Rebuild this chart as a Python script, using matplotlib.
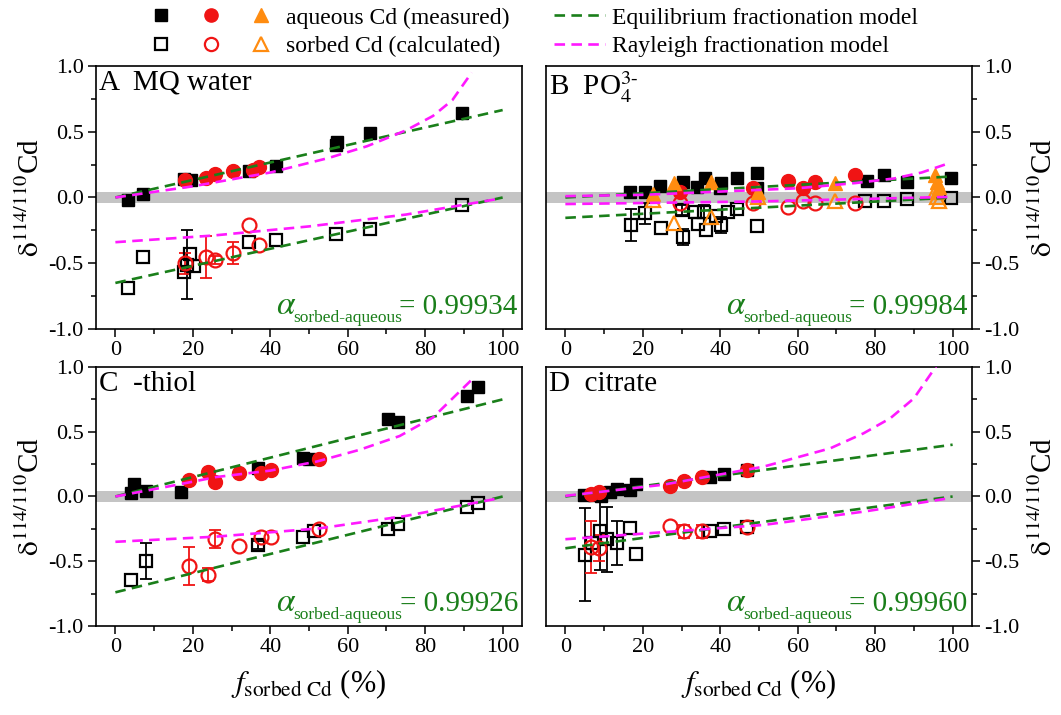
import numpy as np
import matplotlib
matplotlib.use('Agg')
import matplotlib.pyplot as plt
from matplotlib.lines import Line2D
from matplotlib.legend_handler import HandlerTuple
from matplotlib.ticker import MultipleLocator, FormatStrFormatter

plt.rcParams['font.family'] = ['Liberation Serif', 'DejaVu Serif']
plt.rcParams['mathtext.fontset'] = 'stix'
plt.rcParams['axes.unicode_minus'] = False

# ---- Panel A: MQ water ----
a_sq_x = [3.2, 7.1, 17.8, 19.6, 34.6, 41.5, 57.0, 57.3, 65.8, 89.6]
a_sq_y = [-0.02, 0.03, 0.14, 0.13, 0.20, 0.24, 0.40, 0.42, 0.49, 0.64]
a_ci_x = [18.1, 23.3, 25.6, 30.3, 35.5, 37.0]
a_ci_y = [0.133, 0.15, 0.18, 0.20, 0.21, 0.23]
a_sqo_x = [3.2, 7.1, 17.8, 18.5, 19.3, 20.3, 34.6, 41.5, 57.0, 65.8, 89.6]
a_sqo_y = [-0.69, -0.45, -0.57, -0.51, -0.43, -0.52, -0.34, -0.32, -0.28, -0.24, -0.06]
a_sqo_e = [0, 0, 0, 0.26, 0, 0, 0, 0, 0, 0, 0]
a_cio_x = [18.1, 23.3, 25.6, 30.3, 34.4, 37.0]
a_cio_y = [-0.50, -0.45, -0.475, -0.42, -0.21, -0.36]
a_cio_e = [0.08, 0.16, 0.03, 0.085, 0, 0]
a_eq_x = [0, 100]
a_eq_aq = [0.0, 0.665]
a_eq_so = [-0.65, 0.0]
a_ray_aq_x = [0, 20, 40, 55, 65, 75, 82, 87, 92]
a_ray_aq_y = [0.0, 0.085, 0.19, 0.30, 0.39, 0.51, 0.62, 0.74, 0.95]
a_ray_so_x = [0, 25, 50, 75, 99]
a_ray_so_y = [-0.34, -0.29, -0.22, -0.13, -0.01]

# ---- Panel B: PO4 ----
b_sq_x = [16.6, 20.5, 24.4, 30.4, 33.9, 36.0, 40.0, 40.3, 44.2, 49.4, 49.4, 77.9, 82.2, 88.1, 99.7]
b_sq_y = [0.044, 0.044, 0.087, 0.12, 0.082, 0.146, 0.07, 0.113, 0.146, 0.184, 0.07, 0.128, 0.171, 0.12, 0.146]
b_ci_x = [29.5, 48.4, 57.6, 61.3, 64.5, 74.9]
b_ci_y = [0.044, 0.07, 0.128, 0.075, 0.115, 0.171]
b_tr_x = [22.6, 28.0, 37.7, 49.8, 69.7, 95.5, 96.0, 96.5, 96.0]
b_tr_y = [0.03, 0.108, 0.12, 0.044, 0.11, 0.17, 0.12, 0.08, 0.04]
b_sqo_x = [17.0, 20.6, 24.6, 30.4, 30.0, 33.6, 34.3, 35.7, 36.4, 40.2, 39.0, 42.0, 44.4, 49.4, 77.5, 82.2, 88.1, 99.5]
b_sqo_y = [-0.21, -0.12, -0.23, -0.30, -0.095, -0.108, -0.20, -0.108, -0.25, -0.21, -0.14, -0.108, -0.09, -0.22, -0.03, -0.03, -0.014, -0.006]
b_sqo_e = [0.12, 0.08, 0, 0.06, 0.04, 0, 0, 0.05, 0, 0.06, 0, 0, 0, 0, 0, 0, 0, 0]
b_cio_x = [29.5, 48.4, 57.6, 61.3, 64.5, 74.9]
b_cio_y = [-0.044, -0.04, -0.07, -0.024, -0.044, -0.04]
b_tro_x = [22.6, 28.0, 37.7, 49.8, 69.7, 95.5, 96.0, 96.5]
b_tro_y = [-0.02, -0.196, -0.146, 0.006, -0.03, 0.04, 0.0, -0.03]
b_eq_x = [0, 100]
b_eq_aq = [0.0, 0.16]
b_eq_so = [-0.155, 0.0]
b_ray_aq_x = [0, 20, 40, 60, 75, 85, 92, 98]
b_ray_aq_y = [0.01, 0.02, 0.045, 0.07, 0.11, 0.145, 0.19, 0.25]
b_ray_so_x = [0, 50, 100]
b_ray_so_y = [-0.05, -0.03, 0.005]

# ---- Panel C: -thiol ----
c_sq_x = [4.0, 4.9, 7.8, 17.0, 36.8, 48.4, 50.1, 70.4, 72.9, 90.9, 93.6]
c_sq_y = [0.025, 0.097, 0.042, 0.037, 0.218, 0.295, 0.29, 0.596, 0.578, 0.776, 0.843]
c_ci_x = [19.1, 23.9, 25.8, 32.0, 37.5, 40.1, 52.7]
c_ci_y = [0.127, 0.187, 0.115, 0.179, 0.184, 0.205, 0.287]
c_sqo_x = [4.0, 7.8, 36.8, 48.4, 51.4, 70.4, 72.9, 90.9, 93.6]
c_sqo_y = [-0.645, -0.496, -0.375, -0.315, -0.27, -0.25, -0.215, -0.078, -0.053]
c_sqo_e = [0, 0.14, 0.03, 0, 0, 0, 0, 0, 0]
c_cio_x = [19.1, 23.9, 25.8, 32.0, 37.5, 40.1, 52.7]
c_cio_y = [-0.537, -0.606, -0.33, -0.382, -0.315, -0.31, -0.251]
c_cio_e = [0.15, 0.05, 0.07, 0, 0, 0, 0]
c_eq_x = [0, 100]
c_eq_aq = [0.0, 0.75]
c_eq_so = [-0.74, 0.0]
c_ray_aq_x = [0, 15, 26, 40, 52, 63, 73.4, 82, 92.3]
c_ray_aq_y = [0.0, 0.085, 0.15, 0.20, 0.27, 0.36, 0.467, 0.61, 0.91]
c_ray_so_x = [0, 26, 52.7, 75, 99]
c_ray_so_y = [-0.35, -0.31, -0.246, -0.15, -0.014]

# ---- Panel D: citrate ----
d_sq_x = [4.9, 7.5, 9.2, 11.4, 13.3, 16.6, 18.3, 37.3, 40.9, 46.8]
d_sq_y = [0.012, 0.012, 0.0, 0.037, 0.055, 0.05, 0.097, 0.153, 0.174, 0.205]
d_ci_x = [6.6, 8.8, 26.9, 30.6, 35.4, 46.8]
d_ci_y = [0.02, 0.037, 0.084, 0.122, 0.153, 0.205]
d_sqo_x = [5.2, 7.0, 9.0, 10.8, 13.3, 16.6, 18.3, 37.3, 40.9, 46.8]
d_sqo_y = [-0.45, -0.36, -0.27, -0.33, -0.357, -0.246, -0.444, -0.27, -0.25, -0.238]
d_sqo_e = [0.36, 0, 0.3, 0.25, 0.17, 0, 0, 0, 0, 0]
d_cio_x = [6.6, 8.8, 26.9, 30.6, 35.4, 46.8]
d_cio_y = [-0.387, -0.40, -0.228, -0.27, -0.27, -0.233]
d_cio_e = [0.2, 0.1, 0, 0.05, 0.05, 0]
d_eq_x = [0, 100]
d_eq_aq = [0.0, 0.40]
d_eq_so = [-0.40, 0.0]
d_ray_aq_x = [0, 25, 51.1, 68.4, 77.0, 83.9, 90.0, 95.6, 97.0]
d_ray_aq_y = [0.005, 0.09, 0.23, 0.372, 0.488, 0.604, 0.758, 1.0, 1.1]
d_ray_so_x = [0, 51.1, 77, 99]
d_ray_so_y = [-0.33, -0.22, -0.117, -0.014]

titles = ['A  MQ water', r'B  PO$_{\mathrm{4}}^{\mathrm{3‐}}$', 'C  -thiol', 'D  citrate']
alphas = ['0.99934', '0.99984', '0.99926', '0.99960']

RED = '#f01414'
ORANGE = '#ff8c10'
GREEN = '#1a7f1a'
MAGENTA = '#ff19ff'
DASH = (0, (4, 2.4))

fig = plt.figure(figsize=(10.61, 7.15), dpi=100)
ax_a = fig.add_axes([0.0905, 0.5399, 0.4015, 0.3678])
ax_b = fig.add_axes([0.5146, 0.5399, 0.4015, 0.3678])
ax_c = fig.add_axes([0.0905, 0.1245, 0.4015, 0.3622])
ax_d = fig.add_axes([0.5146, 0.1245, 0.4015, 0.3622])


def add_err(ax, x, y, e, color):
    x, y, e = np.array(x), np.array(y), np.array(e)
    m = e > 0
    if m.any():
        ax.errorbar(x[m], y[m], yerr=e[m], fmt='none', ecolor=color,
                    elinewidth=1.3, capsize=4, capthick=1.3, zorder=2)


def draw(ax, sq, ci, sqo, cio, eq, ray_aq, ray_so, tr=None, tro=None):
    ax.axhspan(-0.04, 0.04, color='#c4c4c4', lw=0, zorder=0)
    add_err(ax, *sqo, 'black')
    add_err(ax, *cio, RED)
    ax.plot(sq[0], sq[1], 's', color='black', ms=8.5, zorder=3)
    ax.plot(sqo[0], sqo[1], 's', mfc='none', mec='black', mew=1.6, ms=8.5, zorder=3)
    ax.plot(ci[0], ci[1], 'o', color=RED, ms=10, zorder=4)
    ax.plot(cio[0], cio[1], 'o', mfc='none', mec=RED, mew=1.6, ms=10, zorder=4)
    if tr is not None:
        ax.plot(tr[0], tr[1], '^', color=ORANGE, ms=10.5, zorder=5)
        ax.plot(tro[0], tro[1], '^', mfc='none', mec=ORANGE, mew=1.6, ms=10.5, zorder=5)
    ax.plot(eq[0], eq[1], ls=DASH, color=GREEN, lw=1.9, zorder=6)
    ax.plot(eq[0], eq[2], ls=DASH, color=GREEN, lw=1.9, zorder=6)
    ax.plot(ray_aq[0], ray_aq[1], ls=DASH, color=MAGENTA, lw=1.9, zorder=6)
    ax.plot(ray_so[0], ray_so[1], ls=DASH, color=MAGENTA, lw=1.9, zorder=6)


draw(ax_a, (a_sq_x, a_sq_y), (a_ci_x, a_ci_y), (a_sqo_x, a_sqo_y, a_sqo_e),
     (a_cio_x, a_cio_y, a_cio_e), (a_eq_x, a_eq_aq, a_eq_so),
     (a_ray_aq_x, a_ray_aq_y), (a_ray_so_x, a_ray_so_y))
draw(ax_b, (b_sq_x, b_sq_y), (b_ci_x, b_ci_y), (b_sqo_x, b_sqo_y, b_sqo_e),
     (b_cio_x, b_cio_y, [0] * len(b_cio_x)), (b_eq_x, b_eq_aq, b_eq_so),
     (b_ray_aq_x, b_ray_aq_y), (b_ray_so_x, b_ray_so_y),
     tr=(b_tr_x, b_tr_y), tro=(b_tro_x, b_tro_y))
draw(ax_c, (c_sq_x, c_sq_y), (c_ci_x, c_ci_y), (c_sqo_x, c_sqo_y, c_sqo_e),
     (c_cio_x, c_cio_y, c_cio_e), (c_eq_x, c_eq_aq, c_eq_so),
     (c_ray_aq_x, c_ray_aq_y), (c_ray_so_x, c_ray_so_y))
draw(ax_d, (d_sq_x, d_sq_y), (d_ci_x, d_ci_y), (d_sqo_x, d_sqo_y, d_sqo_e),
     (d_cio_x, d_cio_y, d_cio_e), (d_eq_x, d_eq_aq, d_eq_so),
     (d_ray_aq_x, d_ray_aq_y), (d_ray_so_x, d_ray_so_y))

ylab = r'$\mathrm{\delta}^{114/110}$Cd'
xlab = r'$f_{\mathrm{sorbed\ Cd}}$ (%)'

for i, ax in enumerate([ax_a, ax_b, ax_c, ax_d]):
    ax.set_xlim(-5, 105)
    ax.set_ylim(-1, 1)
    ax.xaxis.set_major_locator(MultipleLocator(20))
    ax.xaxis.set_minor_locator(MultipleLocator(10))
    ax.yaxis.set_major_locator(MultipleLocator(0.5))
    ax.yaxis.set_minor_locator(MultipleLocator(0.25))
    ax.yaxis.set_major_formatter(FormatStrFormatter('%.1f'))
    for s in ax.spines.values():
        s.set_linewidth(1.2)
    ax.tick_params(which='both', direction='out', top=False, width=1.1, labelsize=16, pad=3)
    ax.tick_params(which='major', length=6)
    ax.tick_params(which='minor', length=3.5)
    right = i % 2 == 1
    ax.tick_params(axis='y', which='both', left=not right, labelleft=not right,
                   right=right, labelright=right)
    ax.set_ylabel(ylab, fontsize=21)
    if right:
        ax.yaxis.set_label_position('right')
        ax.yaxis.set_label_coords(1.135, 0.5)
    else:
        ax.yaxis.set_label_coords(-0.12, 0.5)
    if i >= 2:
        ax.set_xlabel(xlab, fontsize=22)
        ax.xaxis.set_label_coords(0.5, -0.16)
    ax.text(0.008, 0.985, titles[i], transform=ax.transAxes, ha='left', va='top', fontsize=21)
    ax.text(0.99, 0.057, '= ' + alphas[i], transform=ax.transAxes, ha='right',
            va='baseline', fontsize=21, color=GREEN)
    ax.text(0.422, 0.057, r'$\alpha$', transform=ax.transAxes,
            ha='left', va='baseline', fontsize=24, color=GREEN)
    ax.text(0.462, 0.028, 'sorbed-aqueous', transform=ax.transAxes,
            ha='left', va='baseline', fontsize=12.5, color=GREEN)

# legend
h_aq = (Line2D([], [], ls='none', marker='s', color='black', ms=8),
        Line2D([], [], ls='none', marker='o', color=RED, ms=9.5),
        Line2D([], [], ls='none', marker='^', color=ORANGE, ms=10))
h_so = (Line2D([], [], ls='none', marker='s', mfc='none', mec='black', mew=1.6, ms=8),
        Line2D([], [], ls='none', marker='o', mfc='none', mec=RED, mew=1.6, ms=9.5),
        Line2D([], [], ls='none', marker='^', mfc='none', mec=ORANGE, mew=1.6, ms=10))
leg1 = fig.legend([h_aq, h_so], ['aqueous Cd (measured)', 'sorbed Cd (calculated)'],
                  loc='center left', bbox_to_anchor=(0.1414, 0.955), frameon=False,
                  fontsize=17, handlelength=5.17, handletextpad=0.6, labelspacing=0.3,
                  borderpad=0, borderaxespad=0,
                  handler_map={tuple: HandlerTuple(ndivide=None, pad=1.19)})
h_eq = Line2D([], [], ls=DASH, color=GREEN, lw=1.9)
h_ray = Line2D([], [], ls=DASH, color=MAGENTA, lw=1.9)
leg2 = fig.legend([h_eq, h_ray], ['Equilibrium fractionation model', 'Rayleigh fractionation model'],
                  loc='center left', bbox_to_anchor=(0.522, 0.955), frameon=False,
                  fontsize=17, handlelength=2.16, handletextpad=0.3, labelspacing=0.3,
                  borderpad=0, borderaxespad=0)

fig.savefig('out.png', dpi=100)
